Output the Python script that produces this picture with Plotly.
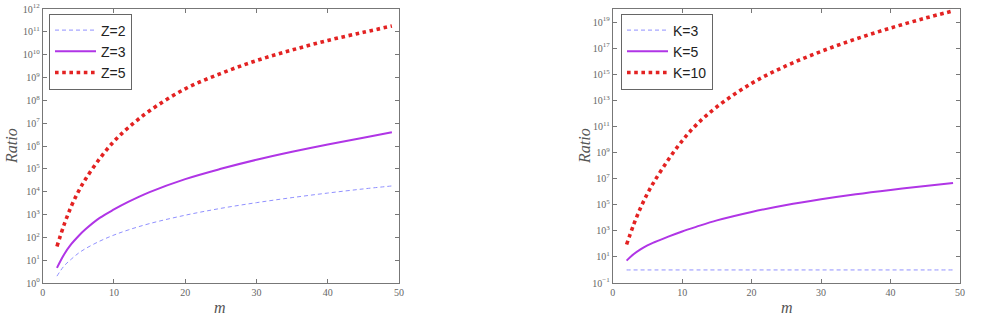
import plotly.graph_objects as go

# ---------------- data ----------------
m_vals = [2, 3, 4, 5, 6, 8, 10, 12, 15, 20, 25, 30, 35, 40, 45, 49]

z2_ratio = [2.0, 5.6, 11, 20, 32, 68, 126, 210, 400, 930, 1860, 3300, 5500, 8700, 13200, 17800]
z3_ratio = [4.6, 17.8, 50, 112, 224, 708, 1660, 3550, 9550, 35500, 1.0e5, 2.5e5, 5.6e5, 1.17e6, 2.3e6, 4.0e6]
z5_ratio = [40, 355, 2240, 1.0e4, 3.5e4, 2.8e5, 1.6e6, 6.3e6, 3.5e7, 3.2e8, 1.5e9, 5.5e9, 1.6e10, 4.2e10, 9.5e10, 1.8e11]

k3_ratio = [1.0] * 16
k5_ratio = [5.2, 16, 38, 76, 132, 355, 890, 2000, 6300, 2.8e4, 9.5e4, 2.6e5, 6.3e5, 1.35e6, 2.7e6, 4.7e6]
k10_ratio = [89, 2800, 5.6e4, 7.1e5, 6.3e6, 2.8e8, 7.9e9, 1.26e11, 3.2e12, 2.0e14, 4.5e15, 5.6e16, 5.0e17, 3.5e18, 2.0e19, 7.1e19]

left_names = ["Z=2", "Z=3", "Z=5"]
right_names = ["K=3", "K=5", "K=10"]

x_tickvals = [0, 10, 20, 30, 40, 50]
x_ticktext = ["0", "10", "20", "30", "40", "50"]
left_exps = list(range(0, 13))
right_exps = list(range(-1, 21, 2))

# ---------------- styles ----------------
BLUE = "#9090ff"
PURPLE = "#b035e6"
RED = "#e32222"
styles = [
    dict(color=BLUE, width=1, dash="4px,3px"),
    dict(color=PURPLE, width=2),
    dict(color=RED, width=3.6, dash="3.6px,3.6px"),
]

fig = go.Figure()

for name, ys, st in zip(left_names, [z2_ratio, z3_ratio, z5_ratio], styles):
    fig.add_trace(go.Scatter(x=m_vals, y=ys, mode="lines", name=name, line=st,
                             xaxis="x", yaxis="y", legend="legend", line_shape="spline"))
for name, ys, st in zip(right_names, [k3_ratio, k5_ratio, k10_ratio], styles):
    fig.add_trace(go.Scatter(x=m_vals, y=ys, mode="lines", name=name, line=st,
                             xaxis="x2", yaxis="y2", legend="legend2", line_shape="spline"))

tickfont = dict(family="Liberation Serif", size=10, color="#666")
axis_common = dict(showline=True, linecolor="#777", linewidth=1, mirror="ticks",
                   ticks="inside", ticklen=4, tickcolor="#777", showgrid=False,
                   zeroline=False, tickfont=tickfont, automargin=False)

ydom = [1 - 283 / 324, 1 - 9 / 324]

legend_common = dict(y=1 - 51.5 / 324, xanchor="left", yanchor="middle",
                     bordercolor="#666", borderwidth=1, bgcolor="white", itemwidth=41,
                     tracegroupgap=0,
                     font=dict(family="Liberation Sans", size=14, color="#222"))

fig.update_layout(
    width=984, height=324,
    margin=dict(l=0, r=0, t=0, b=0),
    paper_bgcolor="white", plot_bgcolor="white",
    xaxis=dict(domain=[42.7 / 984, 399 / 984], range=[0, 50], tickvals=x_tickvals,
               ticktext=x_ticktext, anchor="y", **axis_common),
    yaxis=dict(domain=ydom, type="log", range=[0, 12],
               tickvals=[10 ** e for e in left_exps],
               ticktext=["10<sup>%d</sup>" % e for e in left_exps],
               anchor="x", **axis_common),
    xaxis2=dict(domain=[612.7 / 984, 960 / 984], range=[0, 50], tickvals=x_tickvals,
                ticktext=x_ticktext, anchor="y2", **axis_common),
    yaxis2=dict(domain=ydom, type="log", range=[-1, 20],
                tickvals=[10.0 ** e for e in right_exps],
                ticktext=["10<sup>%d</sup>" % e if e >= 0 else "10<sup>\u22121</sup>" for e in right_exps],
                anchor="x2", **axis_common),
    legend=dict(x=49 / 984, **legend_common),
    legend2=dict(x=621 / 984, **legend_common),
    showlegend=True,
)

lab_font = dict(family="Liberation Serif", size=16, color="#555")
for xp in [11 / 984, 584 / 984]:
    fig.add_annotation(text="<i>Ratio</i>", x=xp, y=1 - 146 / 324, xref="paper", yref="paper",
                       xanchor="center", yanchor="middle",
                       showarrow=False, textangle=-90, font=lab_font)
for xp in [220 / 984, 787 / 984]:
    fig.add_annotation(text="<i>m</i>", x=xp, y=1 - 307 / 324, xref="paper", yref="paper",
                       xanchor="center", yanchor="middle",
                       showarrow=False, font=lab_font)

fig.write_html("out.html")
